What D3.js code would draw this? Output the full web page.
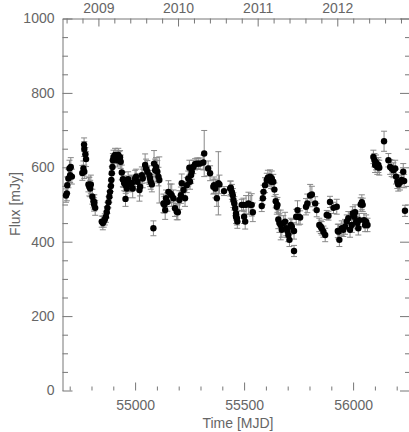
<!DOCTYPE html>
<html><head><meta charset="utf-8">
<script src="https://cdn.jsdelivr.net/npm/d3@7"></script>
<style>
html,body{margin:0;padding:0;background:#fff;}
svg text{font-family:"Liberation Sans","DejaVu Sans",sans-serif;fill:#666;}
</style>
</head><body>
<svg id="chart" width="409" height="432"></svg>
<script>
// ---- data ----
const mjd = [54683,54687,54689,54694,54699,54702,54705,54710,54758,54763,54766,54767,54767,54772,54775,54786,54790,54794,54797,54804,54809,54812,54813,54817,
54847,54852,54856,54861,54866,54870,54873,54878,54882,54885,54889,54891,54893,54896,54898,54901,54908,54916,54919,54923,54928,54931,54934,54939,54944,54946,54950,54956,54957,54962,54968,54972,54982,54985,54989,
55000,55005,55011,55020,55023,55031,55035,55046,55050,55056,55066,55069,55072,55077,55084,55087,55092,55096,55102,55107,55111,55130,55134,55138,55142,55148,55153,55161,55168,55176,55183,55191,55196,55203,55210,55214,55222,55229,55237,55244,55249,55252,55257,55260,55267,55275,55283,55290,55298,55313,55317,55335,55344,55359,55362,55368,55375,55382,55387,55408,55436,55439,55444,55448,55451,55455,55459,55463,55463,55467,55469,55489,55497,55500,55505,55509,55520,55528,55535,55540,
55581,55586,55589,55596,55604,55609,55619,55624,55627,55634,55639,55645,55650,55653,55657,55662,55668,55673,55680,55688,55693,55699,55703,55708,55714,55719,55729,55729,55739,55745,55751,55757,55784,55790,55803,55811,55826,55833,55845,55852,55856,55864,55872,55879,55887,55894,55910,55925,55930,55933,55937,
55948,55955,55963,55971,55978,55986,55994,55998,56005,56009,56014,56020,56024,56029,56035,56040,56044,56050,56055,56060,56066,56093,56098,56101,56105,56111,56116,56120,56142,56162,56170,56177,56185,56193,56197,56203,56207,56215,56223,56230,56234,56238];
const flux = [524,530,552,570,597,579,601,575,585,597,661,649,588,635,622,554,548,543,554,521,509,500,506,491,
454,450,454,460,467,479,491,506,521,534,550,566,584,601,619,628,633,628,619,633,624,627,615,586,568,566,557,515,552,543,568,554,557,557,543,
570,575,561,539,548,579,570,606,597,588,579,570,561,554,436,610,592,601,588,575,566,503,499,485,517,507,534,530,525,517,490,481,479,512,525,557,539,517,552,570,599,561,579,588,601,608,610,610,610,613,637,597,584,548,552,543,517,557,554,536,543,545,534,525,512,503,490,476,467,463,454,499,499,467,454,499,503,499,499,479,
496,517,534,552,566,572,575,561,570,561,540,509,494,499,460,450,445,432,450,454,436,429,418,405,445,440,429,375,467,485,467,465,494,503,524,527,503,485,445,440,436,427,418,472,470,507,491,494,429,427,405,
436,432,440,454,463,432,445,476,467,479,454,450,436,458,500,506,499,458,445,454,445,628,619,606,613,601,606,599,670,619,601,597,592,597,575,561,554,559,566,588,563,483];
const fluxErr = [18,20,22,25,22,20,25,20,20,20,18,20,18,18,20,20,25,22,25,20,18,18,20,20,
15,18,15,15,15,15,15,15,15,15,15,15,18,18,18,18,18,18,18,18,18,18,18,20,20,20,20,20,22,25,20,20,22,20,25,
22,20,22,30,25,22,25,30,25,30,25,22,20,20,20,35,30,25,30,25,62,25,22,25,22,25,30,25,30,22,22,22,20,25,22,25,22,22,20,20,20,20,22,20,18,15,15,15,15,20,62,20,20,20,22,25,22,85,25,12,20,18,20,18,20,18,20,18,18,18,18,15,18,18,20,25,30,25,30,25,
15,18,18,20,18,20,18,18,20,20,18,18,20,20,25,25,40,20,20,25,20,18,18,18,18,20,22,15,20,25,22,18,22,25,30,22,18,18,18,18,18,15,18,12,12,15,15,20,18,20,18,
20,18,20,18,18,20,20,18,18,20,18,18,18,18,18,20,18,18,18,18,18,18,18,20,20,20,20,20,27,18,20,22,20,22,20,18,18,20,20,22,18,15];
const yearLabels = [2009, 2010, 2011, 2012];
const fluxMajorTicks = [0, 200, 400, 600, 800, 1000];
const mjdMajorTicks = [55000, 55500, 56000];

// ---- layout ----
const svg = d3.select("#chart");
const L = 62.5, R = 410, T = 18.5, B = 390.5;
const x = d3.scaleLinear().domain([54667, 56261]).range([L, R]);
const y = d3.scaleLinear().domain([0, 1000]).range([B, T]);
const yearOf = m => 2000 + (m - 51544.5) / 365.25;
const xYear = d3.scaleLinear().domain([yearOf(54667), yearOf(56261)]).range([L, R]);

const tickCol = "#777";
function style(g, keepDomain) {
  g.selectAll("line").attr("stroke", tickCol).attr("stroke-width", 1);
  if (keepDomain) g.select(".domain").attr("stroke", tickCol).attr("stroke-width", 1);
  else g.select(".domain").remove();
  g.selectAll("text").attr("font-size", 14).attr("fill", "#6a6a6a")
   .attr("font-family", "'Liberation Sans','DejaVu Sans',sans-serif");
}

// left axis
const minorFlux = d3.range(0, 1001, 50).filter(v => v % 200 !== 0);
svg.append("g").attr("transform", `translate(${L},0)`)
  .call(d3.axisLeft(y).tickValues(minorFlux).tickSize(-5.5).tickSizeOuter(0).tickFormat(""))
  .call(g => style(g, true));
svg.append("g").attr("transform", `translate(${L},0)`)
  .call(d3.axisLeft(y).tickValues(fluxMajorTicks).tickSize(-10).tickSizeOuter(0).tickPadding(8).tickFormat(d3.format("d")))
  .call(g => style(g, false));
// right axis (ticks only)
svg.append("g").attr("transform", `translate(${R},0)`)
  .call(d3.axisRight(y).tickValues(minorFlux).tickSize(-5).tickSizeOuter(0).tickFormat(""))
  .call(g => style(g, true));
svg.append("g").attr("transform", `translate(${R},0)`)
  .call(d3.axisRight(y).tickValues(fluxMajorTicks).tickSize(-10).tickSizeOuter(0).tickFormat(""))
  .call(g => style(g, false));
// bottom axis (ticks, no line)
const minorMjd = d3.range(54700, 56261, 100).filter(v => v % 500 !== 0);
svg.append("g").attr("transform", `translate(0,${B})`)
  .call(d3.axisBottom(x).tickValues(minorMjd).tickSize(-4).tickSizeOuter(0).tickFormat(""))
  .call(g => style(g, false));
svg.append("g").attr("transform", `translate(0,${B})`)
  .call(d3.axisBottom(x).tickValues(mjdMajorTicks).tickSize(-8).tickSizeOuter(0).tickPadding(10).tickFormat(d3.format("d")))
  .call(g => style(g, false));
// top axis in years
const minorYears = d3.range(2008.6, 2012.95, 0.2).map(v => +v.toFixed(1)).filter(v => Math.abs(v - Math.round(v)) > 1e-6);
svg.append("g").attr("transform", `translate(0,${T})`)
  .call(d3.axisTop(xYear).tickValues(minorYears).tickSize(-5).tickSizeOuter(0).tickFormat(""))
  .call(g => style(g, true));
svg.append("g").attr("transform", `translate(0,${T})`)
  .call(d3.axisTop(xYear).tickValues(yearLabels).tickSize(-8).tickSizeOuter(0).tickPadding(6).tickFormat(d3.format("d")))
  .call(g => style(g, false));

// titles
svg.append("text").attr("x", 238).attr("y", 428).attr("text-anchor", "middle")
  .attr("font-size", 14).attr("fill", "#6a6a6a").text("Time [MJD]");
svg.append("text").attr("transform", "translate(20,204) rotate(-90)").attr("text-anchor", "middle")
  .attr("font-size", 14).attr("fill", "#6a6a6a").text("Flux [mJy]");

// data
const data = mjd.map((m, i) => ({m, f: flux[i], e: fluxErr[i]}));
const eg = svg.append("g").attr("stroke", "#888").attr("stroke-width", 1);
data.forEach(d => {
  const cx = x(d.m), y0 = y(d.f - d.e), y1 = y(d.f + d.e);
  eg.append("line").attr("x1", cx).attr("x2", cx).attr("y1", y0).attr("y2", y1);
  eg.append("line").attr("x1", cx - 3).attr("x2", cx + 3).attr("y1", y0).attr("y2", y0);
  eg.append("line").attr("x1", cx - 3).attr("x2", cx + 3).attr("y1", y1).attr("y2", y1);
});
svg.append("g").selectAll("circle").data(data).join("circle")
  .attr("cx", d => x(d.m)).attr("cy", d => y(d.f)).attr("r", 3.2).attr("fill", "#000");
</script>
</body></html>
